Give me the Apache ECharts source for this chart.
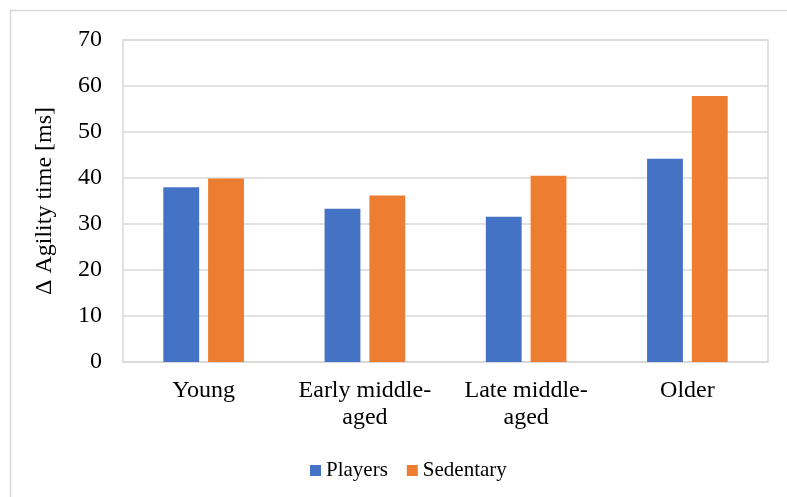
<!DOCTYPE html>
<html>
<head>
<meta charset="utf-8">
<script src="https://cdn.jsdelivr.net/npm/echarts@6/dist/echarts.min.js"></script>
<style>
  html, body { margin: 0; padding: 0; background: #fff; }
  #chart { width: 787px; height: 497px; }
</style>
</head>
<body>
<div id="chart"></div>
<script>
// Age groups on the category axis
const categories = ['Young', 'Early middle-\naged', 'Late middle-\naged', 'Older'];
// Change in agility time (ms) per group
const players = [38.0, 33.3, 31.6, 44.2];
const sedentary = [39.9, 36.2, 40.5, 57.8];
// Value axis range
const yMin = 0, yMax = 70, yStep = 10;

const serif = '"Liberation Serif", "Times New Roman", serif';
const gridColor = '#d9d9d9';

const chart = echarts.init(document.getElementById('chart'), null, { renderer: 'canvas' });
chart.setOption({
  backgroundColor: '#ffffff',
  animation: false,
  graphic: [{
    type: 'rect',
    shape: { x: 10.5, y: 10.5, width: 800, height: 500 },
    style: { fill: 'none', stroke: gridColor, lineWidth: 1.5 },
    silent: true
  }],
  grid: {
    left: 123, right: 19, top: 40, bottom: 135,
    show: true, borderColor: gridColor, borderWidth: 1.5, backgroundColor: 'transparent'
  },
  legend: {
    top: 455, left: 305,
    itemWidth: 11, itemHeight: 11, itemGap: 19,
    icon: 'rect',
    textStyle: { fontFamily: serif, fontSize: 21, color: '#000' },
    data: ['Players', 'Sedentary']
  },
  xAxis: {
    type: 'category',
    data: categories,
    axisLine: { show: true, lineStyle: { color: gridColor, width: 1.5 } },
    axisTick: { show: false },
    axisLabel: {
      fontFamily: serif, fontSize: 24, color: '#000', margin: 15,
      lineHeight: 27, interval: 0, align: 'center'
    }
  },
  yAxis: {
    type: 'value',
    min: yMin, max: yMax, interval: yStep,
    name: 'Δ Agility time [ms]',
    nameLocation: 'middle',
    nameGap: 66,
    nameRotate: 90,
    nameTextStyle: { fontFamily: serif, fontSize: 24, color: '#000' },
    axisLine: { show: false },
    axisTick: { show: false },
    axisLabel: { fontFamily: serif, fontSize: 24, color: '#000', margin: 21 },
    splitLine: { lineStyle: { color: gridColor, width: 1.5 } }
  },
  series: [
    {
      name: 'Players', type: 'bar', data: players,
      barGap: '25%', barCategoryGap: '50%',
      itemStyle: { color: '#4472c4' }
    },
    {
      name: 'Sedentary', type: 'bar', data: sedentary,
      barGap: '25%', barCategoryGap: '50%',
      itemStyle: { color: '#ed7d31' }
    }
  ]
});
</script>
</body>
</html>
